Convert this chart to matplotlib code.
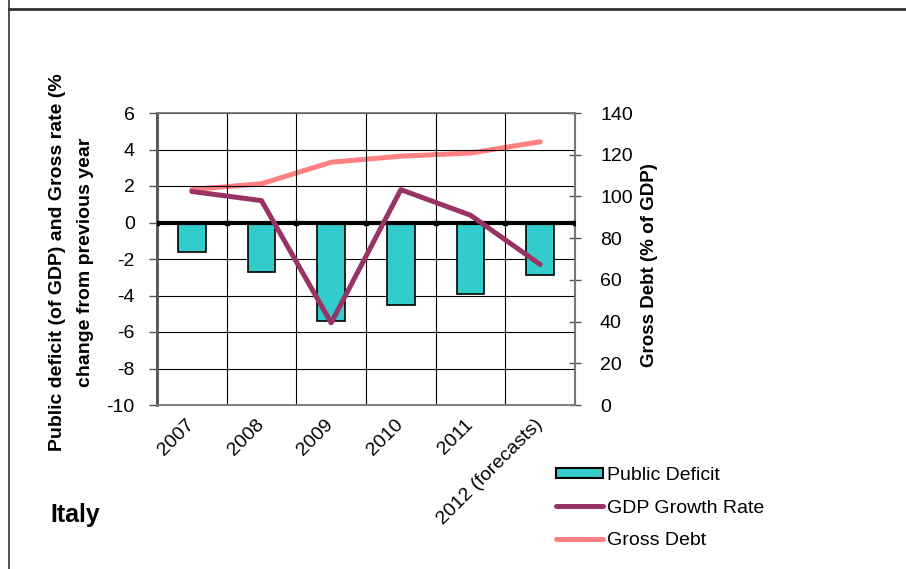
import numpy as np
import matplotlib
matplotlib.use("Agg")
import matplotlib.pyplot as plt
from matplotlib.lines import Line2D
from matplotlib.patches import Patch

plt.rcParams['font.family'] = ['Liberation Sans', 'DejaVu Sans']
plt.rcParams['axes.unicode_minus'] = False

#--------------------------------------------------------------------------------------------

years = ["2007", "2008", "2009", "2010", "2011", "2012 (forecasts)"]
public_deficit = [-1.6, -2.7, -5.4, -4.5, -3.9, -2.9]
gdp_growth = [1.7, 1.2, -5.5, 1.8, 0.4, -2.3]
gross_debt = [103.3, 106.1, 116.4, 119.3, 120.8, 126.2]

left_ticks = list(range(-10, 7, 2))
right_ticks = list(range(0, 141, 20))

c_bar = "#33CCCC"
c_gdp = "#993366"
c_debt = "#FF8080"

#--------------------------------------------------------------------------------------------

fig = plt.figure(figsize=(9.06, 5.69), dpi=100)
ax = fig.add_axes([157 / 906, 1 - 405 / 569, 418 / 906, 292 / 569])
ax2 = ax.twinx()

x = np.arange(len(years))
ax.bar(x, public_deficit, width=0.4, color=c_bar, edgecolor="black", linewidth=1.2, zorder=3)
ax.plot(x, gdp_growth, color=c_gdp, lw=3.6, solid_capstyle="round", zorder=5)
ax2.plot(x, gross_debt, color=c_debt, lw=3.6, solid_capstyle="round", zorder=5)

ax.set_xlim(-0.5, len(years) - 0.5)
ax.set_ylim(-10, 6)
ax2.set_ylim(0, 140)
ax.set_yticks(left_ticks)
ax2.set_yticks(right_ticks)

# category gridlines at boundaries
bounds = np.arange(len(years) + 1) - 0.5
ax.set_xticks(bounds, minor=True)
ax.grid(True, which="minor", axis="x", color="black", lw=0.8, zorder=0)
ax.grid(True, which="major", axis="y", color="black", lw=0.8, zorder=0)
ax.tick_params(axis="x", which="minor", length=0)

# zero axis line with small tick marks
ax.axhline(0, color="black", lw=3, zorder=4)
ax.plot(bounds, np.zeros_like(bounds), ls="none", marker="s", ms=3, color="black", zorder=4)

# labels anchored a little left of the category centre
ax.set_xticks(x - 0.09)
ax.set_xticklabels(years, rotation=45, ha="right", rotation_mode="anchor", fontsize=14)
ax.tick_params(axis="x", which="major", length=0, pad=8)
ax.tick_params(axis="y", labelsize=14, length=6, width=1, direction="out", color="#555555", pad=10)
ax2.tick_params(axis="y", labelsize=14, length=8, width=1, direction="inout", color="#555555", pad=14)

for a in (ax, ax2):
    for s in a.spines.values():
        s.set_color("#7f7f7f")
        s.set_linewidth(1.2)
ax.spines["left"].set_color("#555555")
ax.spines["left"].set_linewidth(2)
ax2.spines["right"].set_color("#555555")
ax2.spines["right"].set_linewidth(1.5)
ax.set_zorder(ax2.get_zorder() + 1)
ax.patch.set_visible(False)

fig.text(58 / 906, 1 - 262 / 569, "Public deficit (of GDP) and Gross rate (%",
         rotation=90, ha="center", va="center", fontsize=14, fontweight="bold")
fig.text(86 / 906, 1 - 262 / 569, "change from previous year",
         rotation=90, ha="center", va="center", fontsize=14, fontweight="bold")
fig.text(649 / 906, 1 - 265 / 569, "Gross Debt (% of GDP)",
         rotation=90, ha="center", va="center", fontsize=13.5, fontweight="bold")
fig.text(50 / 906, 1 - 515 / 569, "Italy", ha="left", va="center", fontsize=18, fontweight="bold")

handles = [Patch(facecolor=c_bar, edgecolor="black", linewidth=1.5),
           Line2D([], [], color=c_gdp, lw=3.6, solid_capstyle="round"),
           Line2D([], [], color=c_debt, lw=3.6, solid_capstyle="round")]
fig.legend(handles, ["Public Deficit", "GDP Growth Rate", "Gross Debt"],
           loc="upper left", bbox_to_anchor=(556 / 906, 1 - 467 / 569),
           frameon=False, fontsize=14, handlelength=2.4, handleheight=0.45,
           handletextpad=0.2, labelspacing=0.8, borderpad=0, borderaxespad=0)

# slide frame
fig.add_artist(Line2D([9 / 906, 9 / 906], [0, 1], color="#333333", lw=1.2))
fig.add_artist(Line2D([9 / 906, 1], [1 - 9 / 569, 1 - 9 / 569], color="#333333", lw=2))

fig.savefig("out.png", dpi=100, facecolor="white")
